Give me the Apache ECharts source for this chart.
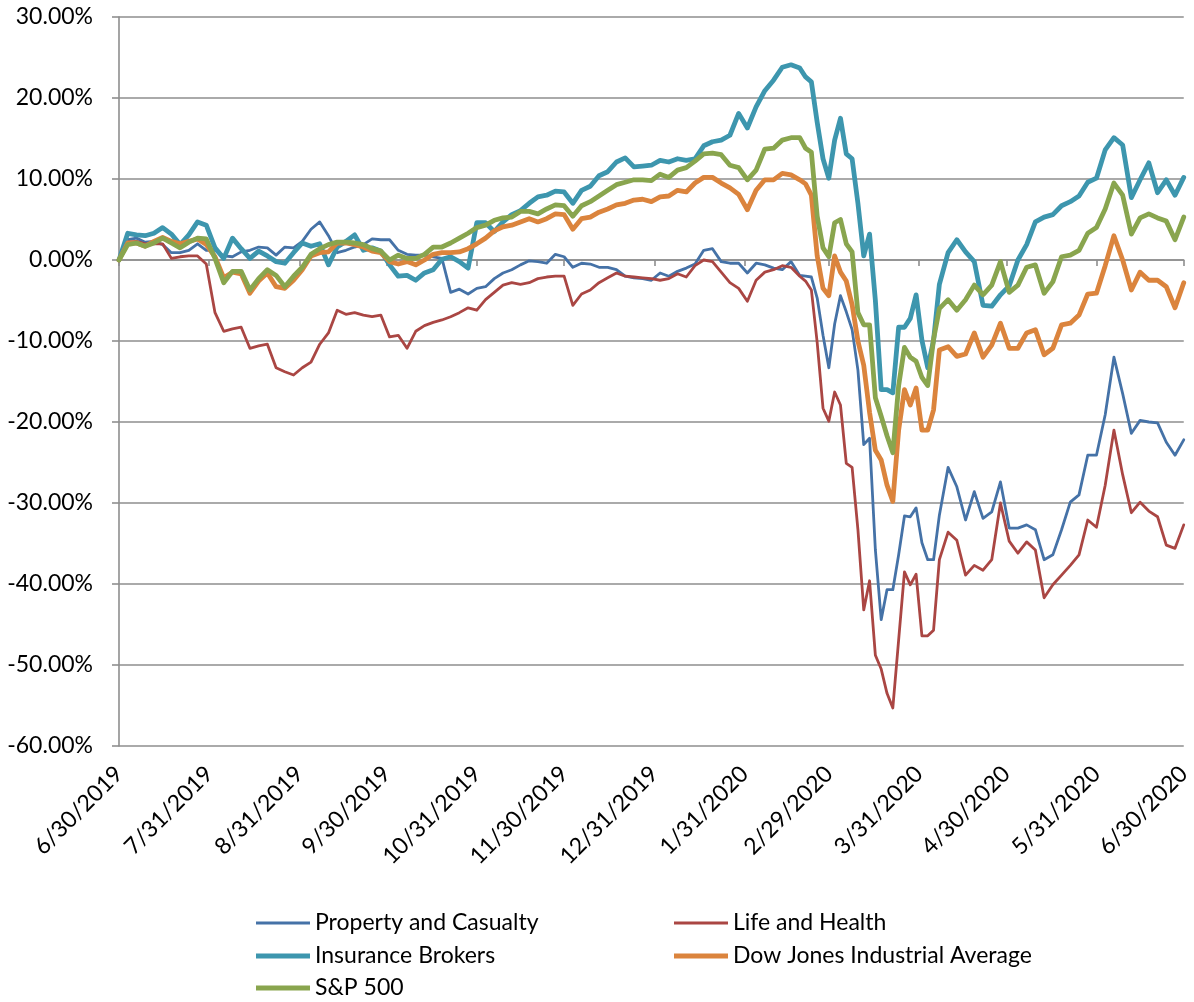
<!DOCTYPE html>
<html><head><meta charset="utf-8">
<script src="https://cdn.jsdelivr.net/npm/echarts@6/dist/echarts.min.js"></script>
<style>html,body{margin:0;padding:0;background:#fff}#c{width:1194px;height:1002px}</style>
</head><body><div id="c"></div>
<script>
const dates = ['2019-06-30','2019-07-03','2019-07-06','2019-07-09','2019-07-12','2019-07-15','2019-07-18','2019-07-21','2019-07-24','2019-07-27','2019-07-30','2019-08-02','2019-08-05','2019-08-08','2019-08-11','2019-08-14','2019-08-17','2019-08-20','2019-08-23','2019-08-26','2019-08-29','2019-09-01','2019-09-04','2019-09-07','2019-09-10','2019-09-13','2019-09-16','2019-09-19','2019-09-22','2019-09-25','2019-09-28','2019-10-01','2019-10-04','2019-10-07','2019-10-10','2019-10-13','2019-10-16','2019-10-19','2019-10-22','2019-10-25','2019-10-28','2019-10-31','2019-11-03','2019-11-06','2019-11-09','2019-11-12','2019-11-15','2019-11-18','2019-11-21','2019-11-24','2019-11-27','2019-11-30','2019-12-03','2019-12-06','2019-12-09','2019-12-12','2019-12-15','2019-12-18','2019-12-21','2019-12-24','2019-12-27','2019-12-30','2020-01-02','2020-01-05','2020-01-08','2020-01-11','2020-01-14','2020-01-17','2020-01-20','2020-01-23','2020-01-26','2020-01-29','2020-02-01','2020-02-04','2020-02-07','2020-02-10','2020-02-13','2020-02-16','2020-02-19',
'2020-02-21','2020-02-23','2020-02-25','2020-02-27','2020-02-29','2020-03-02','2020-03-04','2020-03-06','2020-03-08','2020-03-10','2020-03-12','2020-03-14','2020-03-16','2020-03-18','2020-03-20','2020-03-22','2020-03-24','2020-03-26','2020-03-28','2020-03-30','2020-04-01','2020-04-03','2020-04-05','2020-04-07',
'2020-04-10','2020-04-13','2020-04-16','2020-04-19','2020-04-22','2020-04-25','2020-04-28','2020-05-01','2020-05-04','2020-05-07','2020-05-10','2020-05-13','2020-05-16','2020-05-19','2020-05-22','2020-05-25','2020-05-28','2020-05-31','2020-06-03','2020-06-06','2020-06-09','2020-06-12','2020-06-15','2020-06-18','2020-06-21','2020-06-24','2020-06-27','2020-06-30'];

const tickLabels = ['6/30/2019','7/31/2019','8/31/2019','9/30/2019','10/31/2019','11/30/2019','12/31/2019','1/31/2020','2/29/2020','3/31/2020','4/30/2020','5/31/2020','6/30/2020'];

const propertyCasualty = [0,2.5,2.7,2.2,2.3,1.9,0.9,0.9,1.2,2.0,
 1.2,1.2,0.5,0.4,1.0,1.2,1.6,1.5,0.6,1.6,
 1.5,2.3,3.8,4.7,3.0,0.9,1.2,1.6,1.9,2.6,
 2.5,2.5,1.2,0.7,0.6,0.6,0.4,0.2,-4.0,-3.6,
 -4.2,-3.5,-3.3,-2.3,-1.6,-1.2,-0.6,-0.1,-0.2,-0.4,
 0.7,0.4,-0.9,-0.4,-0.5,-0.9,-0.9,-1.2,-2.0,-2.2,
 -2.3,-2.5,-1.6,-2.0,-1.4,-1.0,-0.5,1.2,1.4,-0.2,
 -0.4,-0.4,-1.6,-0.4,-0.6,-1.0,-1.2,-0.2,-1.9,
 -2.0,-2.1,-4.7,-9.3,-13.3,-7.9,-4.4,-6.4,-8.6,-13.6,
 -22.8,-22.0,-35.8,-44.4,-40.7,-40.7,-36.4,-31.6,-31.7,-30.6,
 -34.9,-37.0,-37.0,-31.5,
 -25.6,-28.0,-32.1,-28.6,-31.9,-31.1,-27.4,-33.1,-33.1,-32.7,
 -33.3,-37.0,-36.4,-33.3,-29.9,-29.0,-24.1,-24.1,-19.1,-12.0,
 -16.5,-21.4,-19.8,-20.0,-20.1,-22.5,-24.1,-22.2];

const lifeHealth = [0,2.2,2.3,2.0,2.0,2.0,0.2,0.4,0.5,0.5,
 -0.5,-6.5,-8.8,-8.5,-8.3,-10.9,-10.6,-10.4,-13.3,-13.8,
 -14.2,-13.3,-12.6,-10.4,-9.0,-6.2,-6.7,-6.5,-6.8,-7.0,
 -6.8,-9.5,-9.3,-10.9,-8.8,-8.1,-7.7,-7.4,-7.0,-6.5,
 -5.9,-6.2,-4.9,-4.0,-3.1,-2.8,-3.0,-2.8,-2.3,-2.1,
 -2.0,-2.0,-5.6,-4.2,-3.7,-2.8,-2.2,-1.6,-2.0,-2.1,
 -2.2,-2.3,-2.5,-2.3,-1.7,-2.1,-0.7,0.0,-0.2,-1.5,
 -2.8,-3.5,-5.1,-2.5,-1.5,-1.2,-0.7,-0.9,-2.0,
 -2.6,-3.7,-10.2,-18.3,-19.9,-16.3,-17.9,-25.1,-25.6,-33.3,
 -43.2,-39.6,-48.8,-50.5,-53.5,-55.3,-46.9,-38.5,-40.1,-38.8,
 -46.4,-46.4,-45.7,-37.0,
 -33.6,-34.6,-38.9,-37.7,-38.3,-37.0,-30.0,-34.7,-36.2,-34.8,
 -35.8,-41.7,-40.1,-38.9,-37.7,-36.4,-32.1,-33.0,-27.8,-21.0,
 -26.5,-31.2,-29.9,-31.0,-31.7,-35.2,-35.6,-32.7];

const insuranceBrokers = [0,3.3,3.1,3.0,3.3,4.0,3.2,1.9,3.1,4.7,
 4.3,1.5,0.2,2.7,1.4,0.2,1.1,0.5,-0.2,-0.4,
 0.9,2.1,1.7,2.0,-0.6,1.6,2.3,3.1,1.2,1.5,
 1.1,-0.6,-2.0,-1.9,-2.5,-1.6,-1.2,0.1,0.4,-0.2,
 -1.0,4.6,4.6,3.5,4.7,5.6,6.1,7.0,7.8,8.0,
 8.5,8.4,7.0,8.6,9.1,10.4,10.9,12.1,12.6,11.5,
 11.6,11.7,12.3,12.1,12.5,12.3,12.5,14.1,14.6,14.8,
 15.4,18.1,16.3,18.9,20.9,22.2,23.8,24.1,23.7,
 22.6,22.0,17.0,12.5,10.1,14.8,17.5,13.1,12.5,7.0,
 0.5,3.2,-5.0,-16.0,-16.0,-16.4,-8.3,-8.3,-7.2,-4.3,
 -9.9,-13.3,-9.9,-3.0,
 0.9,2.5,1.0,-0.2,-5.6,-5.7,-4.3,-3.2,0.0,1.9,
 4.7,5.3,5.6,6.7,7.2,7.9,9.6,10.1,13.6,15.1,
 14.2,7.7,9.9,12.0,8.3,9.9,8.0,10.2];

const dowJones = [0,2.1,2.1,1.7,2.3,2.8,2.3,2.0,2.3,2.6,
 1.9,0.4,-2.2,-1.5,-1.7,-4.1,-2.6,-1.6,-3.3,-3.5,
 -2.5,-1.2,0.5,0.9,1.0,2.1,2.1,1.9,1.6,1.1,
 0.9,-0.2,-0.5,-0.2,-0.6,0.0,0.7,0.9,0.9,1.0,
 1.4,2.0,2.7,3.6,4.1,4.3,4.7,5.1,4.7,5.1,
 5.7,5.6,3.8,5.1,5.3,5.9,6.3,6.8,7.0,7.4,
 7.5,7.2,7.8,7.9,8.6,8.4,9.5,10.2,10.2,9.5,
 8.9,8.1,6.2,8.6,9.9,9.9,10.7,10.5,9.9,
 9.4,8.0,0.5,-3.5,-4.4,0.5,-1.5,-2.6,-5.5,-10.0,
 -13.0,-18.8,-23.5,-24.7,-27.8,-29.8,-21.0,-16.0,-17.9,-15.8,
 -21.0,-21.0,-18.5,-11.1,
 -10.7,-11.9,-11.6,-9.0,-12.0,-10.5,-7.8,-10.9,-10.9,-9.0,
 -8.6,-11.7,-10.9,-8.0,-7.8,-6.8,-4.2,-4.1,-0.7,3.0,
 0.0,-3.7,-1.5,-2.5,-2.5,-3.3,-5.9,-2.8];

const sp500 = [0,1.9,2.1,1.7,2.1,2.7,2.1,1.5,2.2,2.7,
 2.6,0.2,-2.8,-1.4,-1.4,-3.7,-2.3,-1.2,-1.9,-3.3,
 -2.0,-0.9,0.7,1.4,1.9,2.2,2.2,2.1,1.9,1.4,
 1.1,0.0,0.6,0.2,0.2,0.7,1.6,1.6,2.1,2.7,
 3.3,4.0,4.3,4.9,5.2,5.3,6.0,6.0,5.7,6.3,
 6.8,6.7,5.4,6.7,7.2,7.9,8.6,9.3,9.6,9.9,
 9.9,9.8,10.6,10.2,11.1,11.4,12.2,13.1,13.2,13.0,
 11.7,11.4,9.9,11.1,13.7,13.8,14.8,15.1,15.1,
 13.8,13.3,5.4,1.5,0.4,4.6,5.0,2.0,1.0,-6.5,
 -8.0,-8.0,-17.0,-19.3,-21.7,-23.8,-15.5,-10.8,-12.0,-12.5,
 -14.5,-15.5,-9.8,-6.0,
 -4.9,-6.2,-4.9,-3.1,-4.3,-3.1,-0.2,-4.0,-3.1,-0.9,
 -0.6,-4.1,-2.7,0.4,0.6,1.2,3.3,4.0,6.3,9.5,
 8.0,3.2,5.2,5.7,5.2,4.8,2.5,5.3];

const seriesNames = ['Property and Casualty','Life and Health','Insurance Brokers','Dow Jones Industrial Average','S&P 500'];
const seriesValues = [propertyCasualty, lifeHealth, insuranceBrokers, dowJones, sp500];
const seriesColors = ['#4572A7','#AA4643','#3D96AE','#DB843D','#89A54E'];
const seriesWidths = [2.8,2.8,4.8,4.8,4.8];

const DAY = 86400000;
function isoDate(s){const p=s.split('-').map(Number);return Date.UTC(p[0],p[1]-1,p[2]);}
function labelDate(s){const p=s.split('/').map(Number);return Date.UTC(p[2],p[0]-1,p[1]);}
const t0 = labelDate(tickLabels[0]);
const dayOf = (ts)=>Math.round((ts - t0)/DAY);
const tickDays = tickLabels.map(s=>dayOf(labelDate(s)));
const xMin = tickDays[0], xMax = tickDays[tickDays.length-1];
const FONT = 'Lato, "Noto Sans", sans-serif';
const FS = 23;
const gridColor = '#8e8e8e';

const chart = echarts.init(document.getElementById('c'), null, {renderer:'canvas'});
const series = seriesNames.map((n,k)=>({
  name:n, type:'line', xAxisIndex:0, yAxisIndex:0,
  symbol:'none', showSymbol:false, animation:false,
  lineStyle:{color:seriesColors[k], width:seriesWidths[k], join:'round', cap:'round'},
  itemStyle:{color:seriesColors[k]},
  data: dates.map((d,i)=>[dayOf(isoDate(d)), seriesValues[k][i]])
}));

// legend placement: [series index, left, center y]
const legendSlots = [[0,256,923],[1,674,923],[2,256,956],[3,674,956],[4,256,988]];
const legends = legendSlots.map(([k,left,cy])=>({
  data:[seriesNames[k]], left:left, top:cy-13, padding:0,
  icon:'rect', itemWidth:54, itemHeight:seriesWidths[k],
  itemStyle:{color:seriesColors[k]}, lineStyle:{width:0},
  textStyle:{fontFamily:FONT, fontSize:FS, color:'#000', lineHeight:26}
}));

chart.setOption({
  animation:false,
  backgroundColor:'#fff',
  grid:{left:119, right:9, top:17, bottom:256, containLabel:false},
  legend: legends,
  xAxis:[
    {type:'value', min:xMin, max:xMax, position:'bottom',
     axisLine:{show:true, onZero:true, lineStyle:{color:gridColor, width:1.6}},
     axisTick:{show:true, customValues:tickDays, length:6, lineStyle:{color:gridColor, width:1.6}},
     axisLabel:{show:false}, splitLine:{show:false}},
    {type:'value', min:xMin, max:xMax, position:'bottom',
     axisLine:{show:false, onZero:false}, axisTick:{show:false}, splitLine:{show:false},
     axisLabel:{show:true, customValues:tickDays, rotate:45, margin:24, fontFamily:FONT, fontSize:FS, color:'#000',
       formatter:(v)=>{const i=tickDays.indexOf(Math.round(v)); return i>=0 ? tickLabels[i] : '';}}}
  ],
  yAxis:{type:'value', min:-60, max:30, interval:10,
    axisLine:{show:true, lineStyle:{color:gridColor, width:1.6}},
    axisTick:{show:true, length:7, lineStyle:{color:gridColor, width:1.6}},
    axisLabel:{margin:26, fontFamily:FONT, fontSize:FS, color:'#000', formatter:(v)=>v.toFixed(2)+'%'},
    splitLine:{show:true, lineStyle:{color:gridColor, width:1.6}}},
  series: series
});
</script>
</body></html>
